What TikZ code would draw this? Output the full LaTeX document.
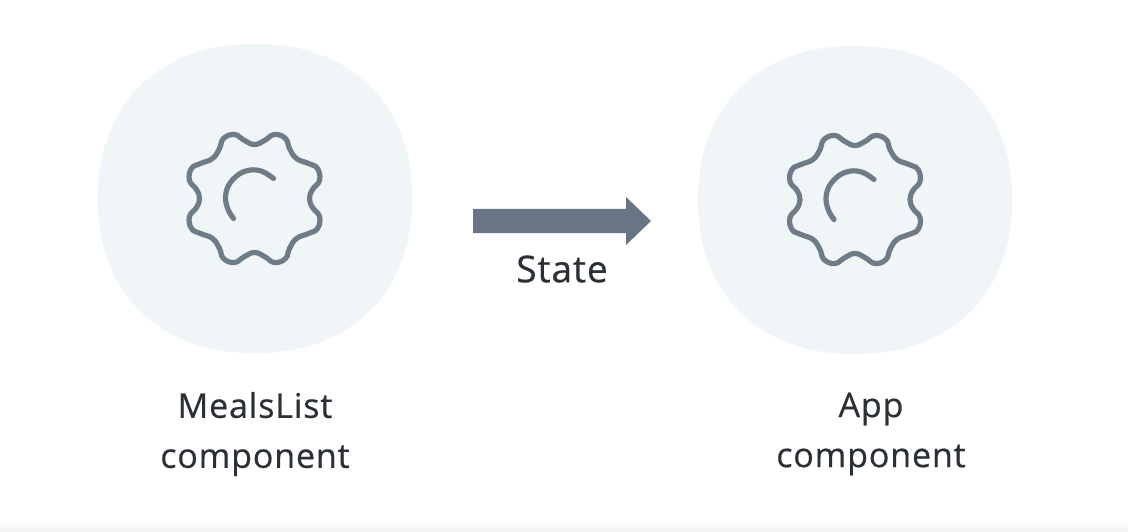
\documentclass[tikz,border=0pt]{standalone}
\usepackage{fontspec}
\setmainfont{Open Sans}[FakeBold=0.55,LetterSpace=2.5]
\definecolor{blobfill}{HTML}{F0F5F8}
\definecolor{gearline}{HTML}{6E7C88}
\definecolor{arrowfill}{HTML}{677586}
\definecolor{inktext}{HTML}{2A3036}
\definecolor{barshade}{HTML}{F3F3F3}
\tikzset{
  x=1pt,y=-1pt,
  blob/.style={fill=blobfill,draw=none},
  gearstroke/.style={draw=gearline,line width=5.2pt,line cap=round,line join=round},
  labeltext/.style={text=inktext,font=\fontsize{34}{50}\selectfont,align=center,inner sep=0pt},
  flowarrow/.style={fill=arrowfill,draw=none},
  gearicon/.pic={
    \draw[gearstroke] plot[smooth cycle,tension=0.75] coordinates {
      (0,-54) (10,-58) (20,-64) (31,-60) (35,-50) (42,-40) (54,-35) (63,-30) (65,-18) (58,-9) (55,0)
      (58,9) (65,18) (63,30) (54,35) (42,40) (35,50) (31,60) (20,64) (10,58) (0,54)
      (-10,58) (-20,64) (-31,60) (-35,50) (-42,40) (-54,35) (-63,30) (-65,18) (-58,9) (-55,0)
      (-58,-9) (-65,-18) (-63,-30) (-54,-35) (-42,-40) (-35,-50) (-31,-60) (-20,-64) (-10,-58)
    };
    \draw[gearstroke] plot[smooth,tension=0.6] coordinates {(19,-20) (8,-27) (-4,-28.5) (-16,-24) (-26,-13) (-29,0) (-26,12) (-21,20)};
  }
}
\begin{document}
\begin{tikzpicture}
\useasboundingbox (0,0) rectangle (1128,532);
\fill[white] (0,0) rectangle (1128,532);
\shade[top color=white,bottom color=barshade] (0,518) rectangle (1128,532);
\fill[blob] plot[domain=0.5:360.5,samples=181,smooth cycle] ({255+157*cos(\x)*abs(cos(\x))^(-0.09)},{198.5+154.5*sin(\x)*abs(sin(\x))^(-0.09)});
\fill[blob] plot[domain=0.5:360.5,samples=181,smooth cycle] ({855+157*cos(\x)*abs(cos(\x))^(-0.09)},{200+154*sin(\x)*abs(sin(\x))^(-0.09)});
\pic at (254.5,198.5) {gearicon};
\pic at (855,199.5) {gearicon};
\coordinate (tail) at (473,221);
\coordinate (tip) at (651,221);
\fill[flowarrow] (tail) ++(0,-12) -- ++(153,0) -- ++(0,-12) -- (tip) -- (626,245) -- (626,233) -- (473,233) -- cycle;
\node[labeltext,font=\fontsize{37}{50}\selectfont] (statelabel) at (562,269) {State};
\node[labeltext] (mealslabel) at (255,434) {MealsList\\component};
\node[labeltext] (applabel) at (871,434) {App\\component};
\end{tikzpicture}
\end{document}
